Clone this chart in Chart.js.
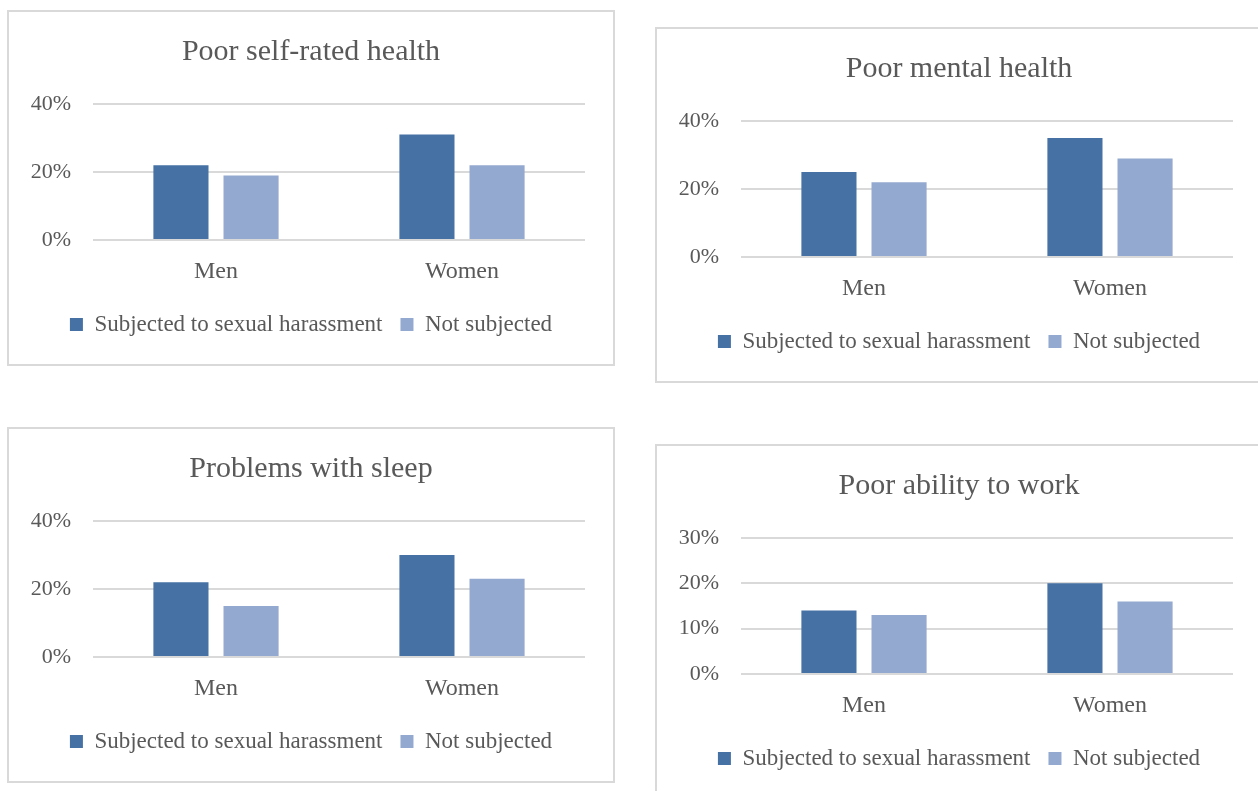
<!DOCTYPE html>
<html>
<head>
<meta charset="utf-8">
<script src="https://cdn.jsdelivr.net/npm/chart.js@4/dist/chart.umd.min.js"></script>
<style>
  html, body { margin: 0; padding: 0; background: #ffffff; }
  body { width: 1258px; height: 791px; overflow: hidden; position: relative; }
  .panel { position: absolute; box-sizing: border-box; width: 608px; height: 356px; border: 2px solid #d9d9d9; background: #fff; }
  .panel canvas { position: absolute; left: 0; top: 0; }
</style>
</head>
<body>
<div class="panel" style="left:7px; top:10px;"><canvas id="c0" width="604" height="352"></canvas></div>
<div class="panel" style="left:655px; top:27px;"><canvas id="c1" width="604" height="352"></canvas></div>
<div class="panel" style="left:7px; top:427px;"><canvas id="c2" width="604" height="352"></canvas></div>
<div class="panel" style="left:655px; top:444px;"><canvas id="c3" width="604" height="352"></canvas></div>
<script>
const categories = ['Men', 'Women'];
const seriesNames = ['Subjected to sexual harassment', 'Not subjected'];
const chartTitles = ['Poor self-rated health', 'Poor mental health', 'Problems with sleep', 'Poor ability to work'];

const selfRatedHarassed = [22, 31];
const selfRatedNot = [19, 22];
const mentalHarassed = [25, 35];
const mentalNot = [22, 29];
const sleepHarassed = [22, 30];
const sleepNot = [15, 23];
const workHarassed = [14, 20];
const workNot = [13, 16];

const yMaxes = [40, 40, 40, 30];
const ySteps = [20, 20, 20, 10];

const harassedSets = [selfRatedHarassed, mentalHarassed, sleepHarassed, workHarassed];
const notSets = [selfRatedNot, mentalNot, sleepNot, workNot];

const DARK = '#4571a5';
const LIGHT = '#94a9cf';
const TEXT = '#595959';
const GRID = '#d9d9d9';
const FONT = "'Liberation Serif', 'Times New Roman', serif";

Chart.defaults.animation = false;
Chart.defaults.font.family = FONT;
Chart.defaults.color = TEXT;

for (let i = 0; i < 4; i++) {
  new Chart(document.getElementById('c' + i), {
    type: 'bar',
    data: {
      labels: categories,
      datasets: [
        { label: seriesNames[0], data: harassedSets[i], backgroundColor: DARK, categoryPercentage: 0.57, barPercentage: 0.786 },
        { label: seriesNames[1], data: notSets[i], backgroundColor: LIGHT, categoryPercentage: 0.57, barPercentage: 0.786 }
      ]
    },
    options: {
      responsive: false,
      animation: false,
      layout: { padding: { left: 0, right: 0, top: 0, bottom: 18 } },
      plugins: {
        title: {
          display: true,
          text: chartTitles[i],
          color: TEXT,
          font: { family: FONT, size: 30, weight: 'normal', lineHeight: 1.2 },
          padding: { top: 22, bottom: 34 }
        },
        legend: {
          display: true,
          position: 'bottom',
          labels: {
            color: TEXT,
            font: { family: FONT, size: 23 },
            boxWidth: 13,
            boxHeight: 13,
            padding: 18
          }
        },
        tooltip: { enabled: false }
      },
      scales: {
        x: {
          grid: { display: false, drawTicks: false },
          border: { display: false },
          ticks: { color: TEXT, font: { family: FONT, size: 24 }, padding: 17 },
          afterFit: s => { s.height = 55; }
        },
        y: {
          min: 0,
          max: yMaxes[i],
          ticks: { stepSize: ySteps[i], color: TEXT, font: { family: FONT, size: 22 }, padding: 22, callback: v => v + '%' },
          grid: { color: GRID, lineWidth: 2, drawTicks: false },
          border: { display: false },
          afterFit: s => { s.width = 84; }
        },
        yRight: {
          position: 'right',
          display: true,
          ticks: { display: false },
          grid: { display: false, drawTicks: false },
          border: { display: false },
          afterFit: s => { s.width = 28; }
        }
      }
    }
  });
}
</script>
</body>
</html>
